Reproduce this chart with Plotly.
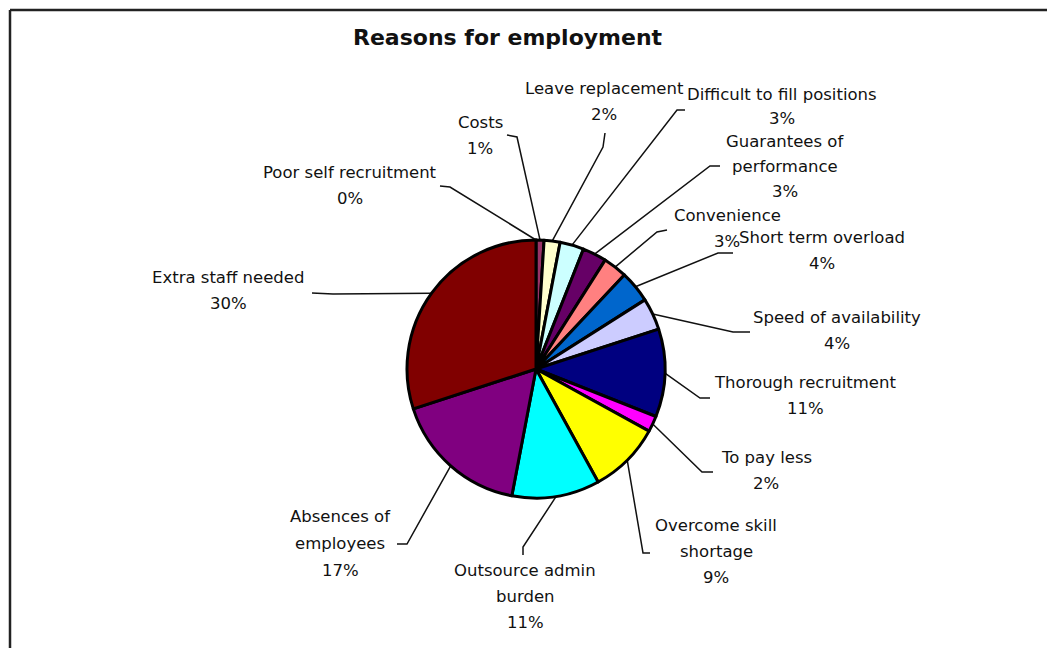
import math
import plotly.graph_objects as go

# ---- data -----------------------------------------------------------------
categories = [
    "Poor self recruitment",
    "Costs",
    "Leave replacement",
    "Difficult to fill positions",
    "Guarantees of performance",
    "Convenience",
    "Short term overload",
    "Speed of availability",
    "Thorough recruitment",
    "To pay less",
    "Overcome skill shortage",
    "Outsource admin burden",
    "Absences of employees",
    "Extra staff needed",
]
shares = [0, 1, 2, 3, 3, 3, 4, 4, 11, 2, 9, 11, 17, 30]

# label text, split over lines as printed next to each slice
label_lines = [
    ["Poor self recruitment"],
    ["Costs"],
    ["Leave replacement"],
    ["Difficult to fill positions"],
    ["Guarantees of", "performance"],
    ["Convenience"],
    ["Short term overload"],
    ["Speed of availability"],
    ["Thorough recruitment"],
    ["To pay less"],
    ["Overcome skill", "shortage"],
    ["Outsource admin", "burden"],
    ["Absences of", "employees"],
    ["Extra staff needed"],
]

# ---- styling ----------------------------------------------------------------
colors = [
    "#9999FF", "#993366", "#FFFFCC", "#CCFFFF", "#660066", "#FF8080",
    "#0066CC", "#CCCCFF", "#000080", "#FF00FF", "#FFFF00", "#00FFFF",
    "#800080", "#800000",
]

W, H = 1047, 648
CX, CY, R = 536, 369, 129          # pie centre and radius in pixels
FONT = "DejaVu Sans"
LABEL_SIZE = 16.5
LINE_GAP = 26

# label placement: centre x, y of first line, leader start A, elbow B
label_layout = [
    dict(x=350, y=172, a=(440, 186), b=(450, 187), gap=LINE_GAP),
    dict(x=480, y=122, a=(507, 135), b=(517, 137), gap=LINE_GAP),
    dict(x=604, y=88, a=(605, 133), b=(603, 147), gap=LINE_GAP),
    dict(x=782, y=94, a=(685, 110), b=(677, 110), gap=24),
    dict(x=785, y=141, a=(720, 166), b=(710, 166), gap=25),
    dict(x=727, y=215, a=(667, 230), b=(657, 232), gap=LINE_GAP),
    dict(x=822, y=237, a=(733, 253), b=(718, 253), gap=LINE_GAP),
    dict(x=837, y=317, a=(750, 332), b=(733, 332), gap=LINE_GAP),
    dict(x=805, y=382, a=(710, 398), b=(700, 398), gap=LINE_GAP),
    dict(x=766, y=457, a=(713, 472), b=(702, 472), gap=LINE_GAP),
    dict(x=716, y=525, a=(650, 553), b=(643, 553), gap=LINE_GAP),
    dict(x=525, y=570, a=(523, 555), b=(523, 547), gap=LINE_GAP),
    dict(x=340, y=516, a=(397, 544), b=(407, 544), gap=LINE_GAP + 1),
    dict(x=228, y=277, a=(312, 293), b=(333, 294), gap=LINE_GAP),
]

fig = go.Figure()

# pie, clockwise from 12 o'clock
fig.add_trace(go.Pie(
    labels=categories,
    values=shares,
    sort=False,
    direction="clockwise",
    rotation=0,
    marker=dict(colors=colors, line=dict(color="black", width=3)),
    textinfo="none",
    hoverinfo="label+percent",
    showlegend=False,
    domain=dict(x=[(CX - R) / W, (CX + R) / W],
                y=[1 - (CY + R) / H, 1 - (CY - R) / H]),
))

# leader lines: label -> elbow -> rim at the slice's mid angle
total = sum(shares)
lx, ly = [], []
cum = 0
for v, lay in zip(shares, label_layout):
    ang = math.radians((cum + v / 2) / total * 360)
    cum += v
    rim = (CX + R * math.sin(ang), CY - R * math.cos(ang))
    for p in (lay["a"], lay["b"], rim):
        lx.append(p[0])
        ly.append(p[1])
    lx.append(None)
    ly.append(None)

fig.add_trace(go.Scatter(
    x=lx, y=ly, mode="lines",
    line=dict(color="#111", width=1.5),
    hoverinfo="skip", showlegend=False,
))

annotations = []
for v, lines, lay in zip(shares, label_lines, label_layout):
    pct = round(100 * v / total)
    for i, txt in enumerate(lines + [f"{pct}%"]):
        annotations.append(dict(
            x=lay["x"], y=lay["y"] + i * lay["gap"], xref="x", yref="y",
            text=txt, showarrow=False, xanchor="center", yanchor="middle",
            font=dict(family=FONT, size=LABEL_SIZE, color="#111"),
        ))

annotations.append(dict(
    x=508, y=37, xref="x", yref="y",
    text="<b>Reasons for employment</b>", showarrow=False,
    xanchor="center", yanchor="middle",
    font=dict(family=FONT, size=22, color="#111"),
))

# chart frame (left and top edges visible)
shapes = [
    dict(type="line", xref="x", yref="y", x0=10, y0=10, x1=10, y1=H + 5,
         line=dict(color="#222", width=2.5)),
    dict(type="line", xref="x", yref="y", x0=10, y0=10, x1=W + 5, y1=10,
         line=dict(color="#222", width=2.5)),
]

fig.update_layout(
    width=W, height=H,
    margin=dict(l=0, r=0, t=0, b=0),
    paper_bgcolor="white", plot_bgcolor="white",
    xaxis=dict(range=[0, W], visible=False, fixedrange=True),
    yaxis=dict(range=[H, 0], visible=False, fixedrange=True),
    annotations=annotations,
    shapes=shapes,
    showlegend=False,
)

fig.write_html("out.html")
